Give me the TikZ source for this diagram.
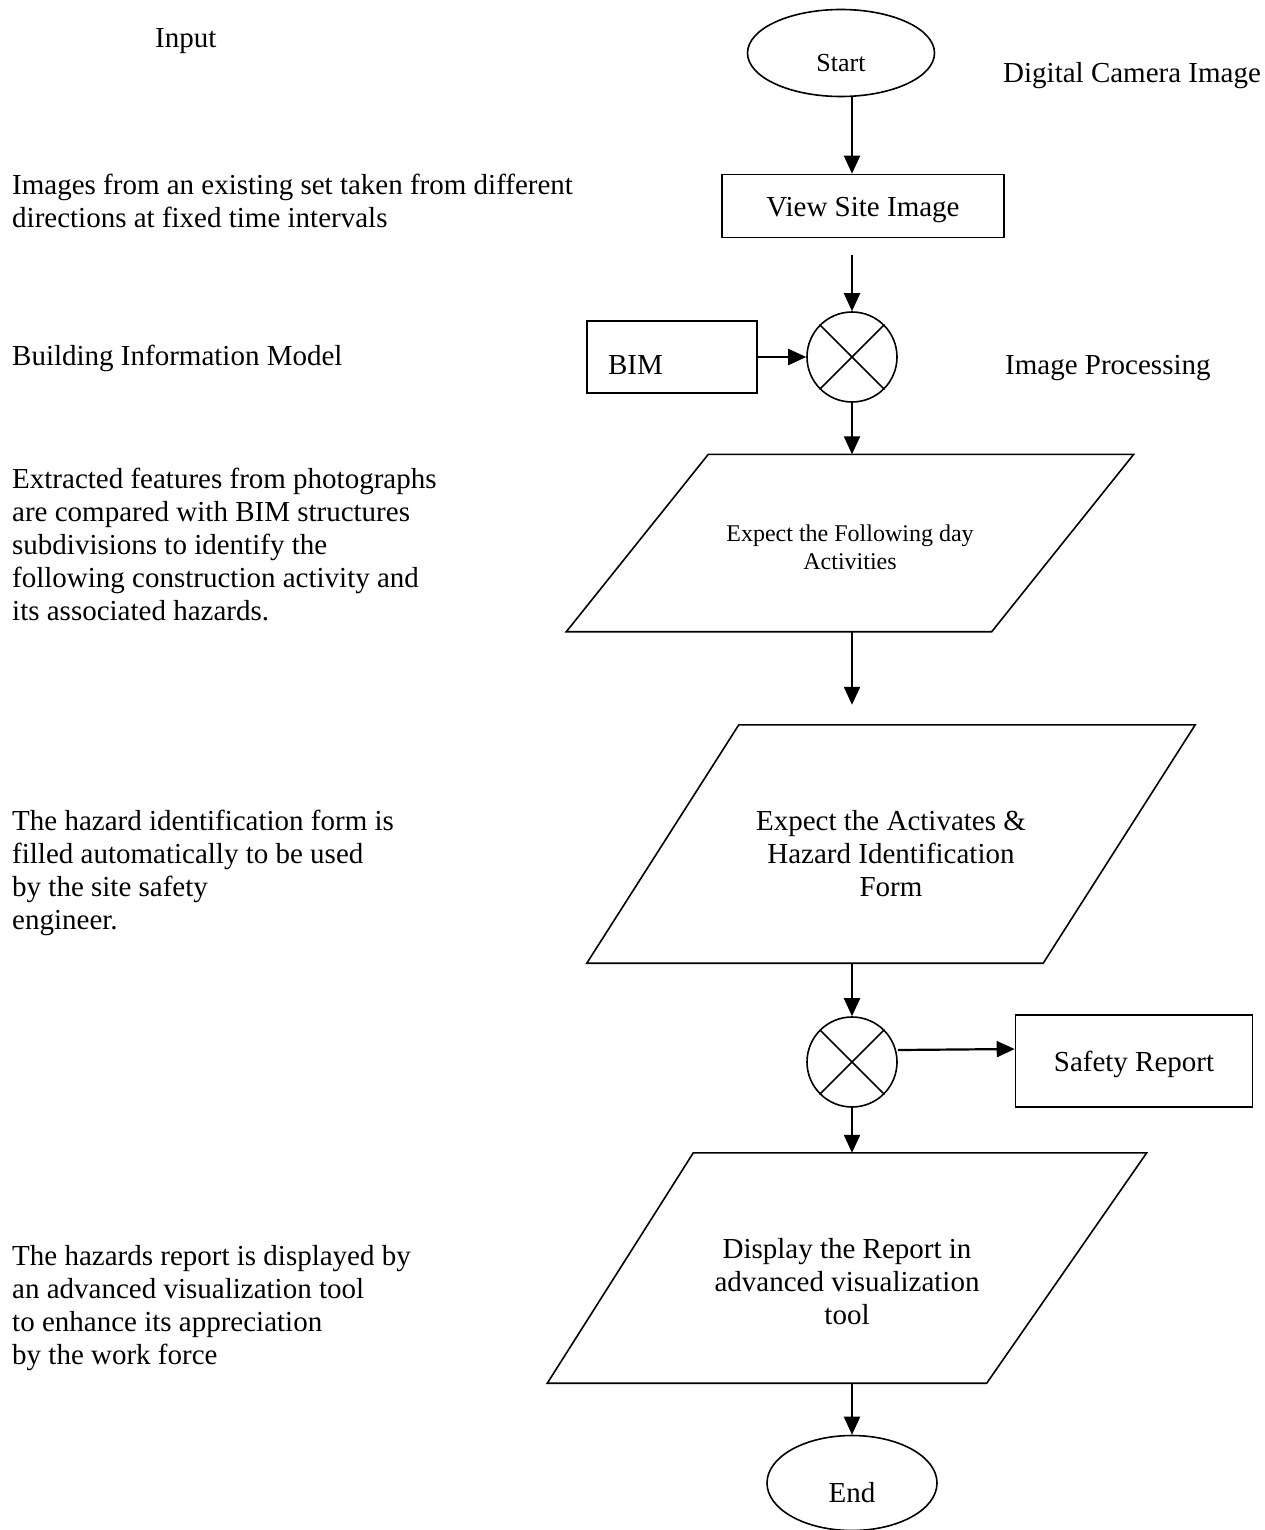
\documentclass[tikz,border=0pt]{standalone}
\usepackage{fontspec}
\setmainfont{Liberation Serif}
\usetikzlibrary{shapes.geometric,arrows.meta}

\begin{document}
\begin{tikzpicture}[x=1pt,y=-1pt,
    every node/.style={font=\fontsize{29}{33}\selectfont},
    term/.style={ellipse,draw,line width=1.6pt,inner sep=0pt},
    proc/.style={rectangle,draw,line width=1.6pt,inner sep=0pt},
    data/.style={rectangle,inner sep=0pt,align=center,text depth=0pt},
    mix/.style={circle,draw,line width=1.6pt,minimum size=90pt,inner sep=0pt},
    note/.style={anchor=west,align=left,inner sep=0pt},
    arr/.style={-{Triangle[length=18pt,width=16pt]},line width=2.2pt}]
  \useasboundingbox (0,0) rectangle (1265,1530);

  \node[term,minimum width=187pt,minimum height=87pt,font=\fontsize{26}{30}\selectfont,text height=38pt,text depth=0pt] (start) at (841,53) {Start};
  \node[proc,minimum width=282pt,minimum height=63pt,text height=28pt,text depth=6pt] (view) at (863,206) {View Site Image};
  \node[mix] (mixa) at (852,357) {};
  \node[proc,minimum width=170pt,minimum height=72pt,text width=128pt,inner xsep=21pt,align=left,text height=35pt,text depth=0pt] (bim) at (672,357) {BIM};
  \node[data,minimum width=425pt,minimum height=177pt,font=\fontsize{24}{28}\selectfont,text height=53pt] (expect) at (850,543) {Expect the Following day\\Activities};
  \node[data,minimum width=456pt,minimum height=238pt,text height=104pt] (form) at (891,844) {Expect the Activates \&\\Hazard Identification\\Form};
  \node[mix] (mixb) at (852,1062) {};
  \node[proc,minimum width=237pt,minimum height=92pt,text height=26pt,text depth=6pt] (report) at (1134,1061) {Safety Report};
  \node[data,minimum width=447pt,minimum height=230pt,text height=112pt] (show) at (847,1268) {Display the Report in\\advanced visualization\\tool};
  \node[term,minimum width=170pt,minimum height=95pt,text height=38pt,text depth=0pt] (stop) at (852,1483) {End};

  \draw[line width=1.6pt] ([xshift=71pt]expect.north west) -- ([xshift=71pt]expect.north east) -- ([xshift=-71pt]expect.south east) -- ([xshift=-71pt]expect.south west) -- cycle;
  \draw[line width=1.6pt] ([xshift=76pt]form.north west) -- ([xshift=76pt]form.north east) -- ([xshift=-76pt]form.south east) -- ([xshift=-76pt]form.south west) -- cycle;
  \draw[line width=1.6pt] ([xshift=70pt]show.north west) -- ([xshift=76pt]show.north east) -- ([xshift=-84pt]show.south east) -- ([xshift=-76pt]show.south west) -- cycle;
  \draw[line width=1.6pt] (mixa.north west) -- (mixa.south east) (mixa.north east) -- (mixa.south west);
  \draw[line width=1.6pt] (mixb.north west) -- (mixb.south east) (mixb.north east) -- (mixb.south west);

  \node[note] (input) at (155,41) {Input};
  \node[note] (camera) at (1003,76) {Digital Camera Image};
  \node[note] (sets) at (12,201) {Images from an existing set taken from different\\directions at fixed time intervals};
  \node[note] (model) at (12,358) {Building Information Model};
  \node[note] (imgproc) at (1005,368) {Image Processing};
  \node[note] (feat) at (12,544) {Extracted features from photographs\\are compared with BIM structures\\subdivisions to identify the\\following construction activity and\\its associated hazards.};
  \node[note] (fill) at (12,873) {The hazard identification form is\\filled automatically to be used\\by the site safety\\engineer.};
  \node[note] (disp) at (12,1308) {The hazards report is displayed by\\an advanced visualization tool\\to enhance its appreciation\\by the work force};

  \coordinate (col) at (852,0);
  \draw[arr] (start.south -| col) -- (view.north -| col);
  \draw[arr,shorten <=17pt] (view.south -| col) -- (mixa.north);
  \draw[arr] (bim) -- (mixa);
  \draw[arr] (mixa.south) -- (expect.north -| col);
  \draw[arr,shorten >=20pt] (expect.south -| col) -- (form.north -| col);
  \draw[arr] (form.south -| col) -- (mixb.north);
  \draw[arr] ([yshift=12pt]mixb.east) -- ([yshift=12pt]report.west);
  \draw[arr] (mixb.south) -- (show.north -| col);
  \draw[arr] (show.south -| col) -- (stop.north);
\end{tikzpicture}
\end{document}
